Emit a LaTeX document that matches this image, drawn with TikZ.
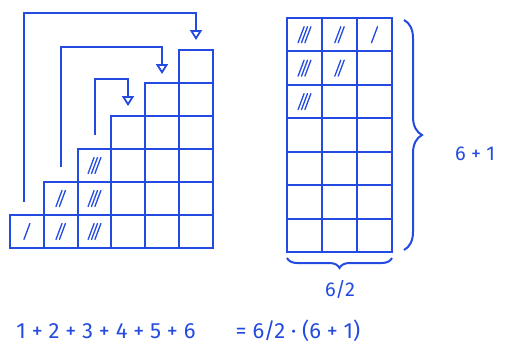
\documentclass[tikz,border=0pt]{standalone}
\usepackage{fontspec}
\setmainfont{Fira Sans}
\usetikzlibrary{arrows.meta,decorations.pathreplacing}
\definecolor{pen}{RGB}{35,75,225}
\tikzset{
  cellL/.style={draw=pen, line width=2pt, minimum width=33.8pt, minimum height=33pt, inner sep=0pt, outer sep=0pt},
  cellR/.style={draw=pen, line width=2pt, minimum width=35pt, minimum height=33.43pt, inner sep=0pt, outer sep=0pt},
  arr/.style={draw=pen, line width=2pt, -{Triangle[open, width=12pt, length=10pt, line width=1.8pt]}},
  hatchline/.style={draw=pen, line width=1.3pt, line cap=round},
  bracestyle/.style={draw=pen, line width=2pt, decorate},
  lbl/.style={text=pen, font=\fontsize{20}{24}\selectfont, inner sep=0pt},
  eqlbl/.style={text=pen, font=\fontsize{22}{26}\selectfont, inner sep=0pt}
}
\newcommand{\hatchcell}[2]{%
  \foreach \k in {1,...,#2}{%
    \pgfmathsetmacro{\dx}{(\k-(#2+1)/2)*3.4}%
    \draw[hatchline] ([xshift=\dx pt-3pt, yshift=-8pt]#1.center) -- ([xshift=\dx pt+3pt, yshift=8pt]#1.center);
  }%
}
\begin{document}
\begin{tikzpicture}[x=1pt,y=-1pt]
\useasboundingbox (0,0) rectangle (508,346);
% left staircase
\foreach \c in {1,...,6}{
  \foreach \r in {1,...,\c}{
    \node[cellL] (L-\c-\r) at ({10+33.8*(\c-0.5)},{248-33*(\r-0.5)}) {};
  }
}
% right grid
\foreach \c in {1,...,3}{
  \foreach \r in {1,...,7}{
    \node[cellR] (R-\c-\r) at ({287+35*(\c-0.5)},{18+33.43*(\r-0.5)}) {};
  }
}
% hatches left
\hatchcell{L-1-1}{1}
\hatchcell{L-2-1}{2}
\hatchcell{L-2-2}{2}
\hatchcell{L-3-1}{3}
\hatchcell{L-3-2}{3}
\hatchcell{L-3-3}{3}
% hatches right
\hatchcell{R-1-1}{3}
\hatchcell{R-2-1}{2}
\hatchcell{R-3-1}{1}
\hatchcell{R-1-2}{3}
\hatchcell{R-2-2}{2}
\hatchcell{R-1-3}{3}
% arrows
\coordinate (s1) at (24,202);
\coordinate (t1) at (196,13);
\coordinate (e1) at (196,40);
\coordinate (s2) at (61,167);
\coordinate (t2) at (162,47);
\coordinate (e2) at (162,74);
\coordinate (s3) at (95,135);
\coordinate (t3) at (128,79);
\coordinate (e3) at (128,106);
\draw[arr] (s1) |- (t1) -- (e1);
\draw[arr] (s2) |- (t2) -- (e2);
\draw[arr] (s3) |- (t3) -- (e3);
% braces
\coordinate (b1a) at (404,20);
\coordinate (b1b) at (404,250);
\draw[bracestyle, decoration={brace, amplitude=18pt}] (b1a) -- (b1b);
\node[lbl] (h) at (475,154) {6 + 1};
\coordinate (b2a) at (392,258);
\coordinate (b2b) at (287,258);
\draw[bracestyle, decoration={brace, amplitude=10pt}] (b2a) -- (b2b);
\node[lbl] (w) at (340,289) {6/2};
% equation
\node[eqlbl] (eqL) at (106,331) {1 + 2 + 3 + 4 + 5 + 6};
\node[eqlbl] (eqR) at (298,331) {= 6/2 · (6 + 1)};
\end{tikzpicture}
\end{document}
